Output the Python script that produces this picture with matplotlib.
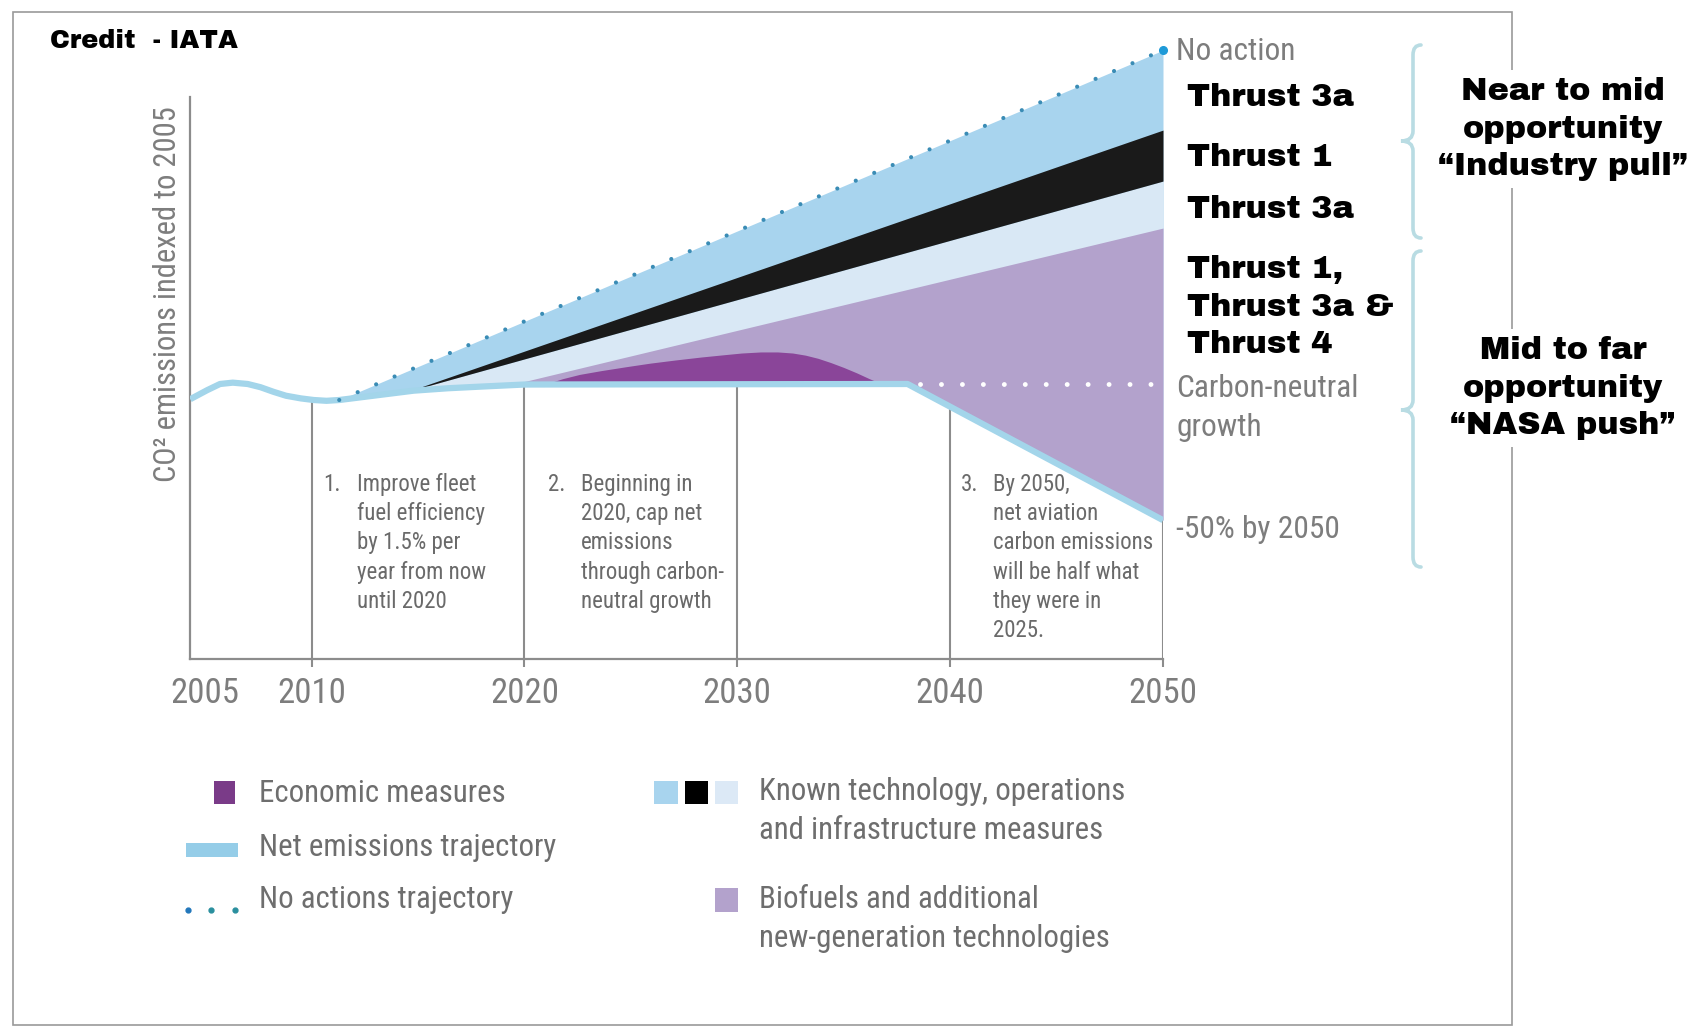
import numpy as np
import matplotlib
matplotlib.use("Agg")
import matplotlib.pyplot as plt
from matplotlib.patches import Rectangle, PathPatch
from matplotlib.path import Path
from matplotlib.lines import Line2D

# ---------------- data ----------------
tick_years = [2005, 2010, 2020, 2030, 2040, 2050]
tick_labels = ["2005", "2010", "2020", "2030", "2040", "2050"]

net_years = [2004.3, 2005.1, 2005.7, 2006.3, 2007.0, 2007.6, 2008.2, 2008.8, 2009.5,
             2010.1, 2010.7, 2011.3, 2012.3, 2013.2, 2014.8, 2016.4, 2017.9, 2020.0,
             2038.0, 2050.0]
net_vals = [97.3, 100.7, 103.0, 103.5, 103.0, 101.8, 100.1, 98.6, 97.6,
            97.0, 96.7, 97.0, 98.0, 98.9, 100.5, 101.4, 102.0, 102.8,
            103.0, 52.0]

no_action_years = [2011.3, 2050.0]
no_action_vals = [97.0, 228.0]

black_years = [2014.6, 2050.0]
black_top = [100.4, 198.1]
black_bottom = [100.4, 179.0]

bio_years = [2019.2, 2050.0]
bio_top = [102.4, 161.4]

econ_years = [2021.0, 2021.8, 2022.6, 2023.6, 2024.8, 2025.9, 2027.1, 2028.3, 2029.3,
              2030.2, 2031.1, 2031.9, 2032.6, 2033.2, 2033.8, 2034.4, 2035.0, 2035.6,
              2036.2, 2036.8]
econ_vals = [103.0, 105.0, 106.6, 108.0, 109.5, 110.8, 112.0, 113.1, 113.9,
             114.6, 115.0, 115.0, 114.6, 113.8, 112.6, 111.0, 109.2, 107.2,
             105.0, 103.0]

neutral_years = [2038.6, 2050.0]
neutral_vals = [103.0, 103.0]

milestone_years = [2010, 2020, 2030, 2040, 2050]

# ---------------- styling ----------------
W, H = 1693, 1029
NARROW = ['Roboto Condensed', 'Archivo Narrow', 'DejaVu Sans']
HEAVY = ['Archivo Black', 'DejaVu Sans']
GRAY = '#7d7d7d'
AXGRAY = '#8c8c8c'
C_LIGHT = '#a8d4ee'
C_PALE = '#d9e8f5'
C_BLACK = '#1a1a1a'
C_BIO = '#b3a2cc'
C_ECON = '#8a4599'
C_NET = '#a3d5ea'

def fx(px):
    return px / W

def fy(py):
    return 1 - py / H

fig = plt.figure(figsize=(W / 100, H / 100), dpi=100)
fig.patch.set_facecolor('white')
ax = fig.add_axes([fx(190), fy(659), (1163 - 190) / W, (659 - 44.9) / H])
ax.set_xlim(2004.29, 2050)
ax.set_ylim(0, 230)

net = lambda x: np.interp(x, net_years, net_vals)

xs = np.linspace(no_action_years[0], no_action_years[-1], 500)
ax.fill_between(xs, net(xs), np.interp(xs, no_action_years, no_action_vals),
                color=C_LIGHT, lw=0, zorder=1)
xs = np.linspace(black_years[0], black_years[-1], 500)
ax.fill_between(xs, net(xs), np.interp(xs, black_years, black_bottom),
                color=C_PALE, lw=0, zorder=2)
ax.fill_between(black_years, black_bottom, black_top, color=C_BLACK, lw=0, zorder=3)
xs = np.linspace(bio_years[0], bio_years[-1], 500)
ax.fill_between(xs, net(xs), np.interp(xs, bio_years, bio_top),
                color=C_BIO, lw=0, zorder=4)
ex = np.array(econ_years)
ax.fill_between(ex, net(ex), econ_vals, color=C_ECON, lw=0, zorder=5)

ax.vlines(milestone_years, 0, net(np.array(milestone_years, dtype=float)),
          color=AXGRAY, lw=1.5, zorder=2)

ax.plot(net_years, net_vals, color=C_NET, lw=4.5, solid_joinstyle='round',
        solid_capstyle='butt', zorder=6)

ax.plot(neutral_years, neutral_vals, color='white', lw=3.5, ls=(0, (0.01, 4.3)),
        dash_capstyle='round', zorder=7)

ax.plot(no_action_years, no_action_vals, color='#3a8cb5', lw=3.0, ls=(0, (0.01, 4.8)),
        dash_capstyle='round', zorder=8)
ax.plot([no_action_years[-1]], [no_action_vals[-1]], 'o', ms=5.5, color='#1e9ad8',
        clip_on=False, zorder=9)

for s in ['top', 'right']:
    ax.spines[s].set_visible(False)
ax.spines['left'].set_bounds(0, 210.5)
for s in ['left', 'bottom']:
    ax.spines[s].set_color(AXGRAY)
    ax.spines[s].set_linewidth(1.6)
ax.set_yticks([])
ax.set_xticks(tick_years, tick_labels)
ax.tick_params(axis='x', length=6, width=1.5, color=AXGRAY, labelcolor=GRAY,
               labelsize=25, pad=7)
for lbl in ax.get_xticklabels():
    lbl.set_family(NARROW)
ax.xaxis.get_major_ticks()[0].tick1line.set_visible(False)
ax.set_facecolor('none')

fig.text(fx(168), fy(294), "CO² emissions indexed to 2005", rotation=90,
         ha='center', va='center', fontsize=22, color=GRAY, family=NARROW)

ann_kw = dict(fontsize=16.5, color='#6a6a6a', family=NARROW, va='top', ha='left',
              linespacing=1.35)
ax.text(2010.54, 69.8, "1.", **ann_kw)
ax.text(2012.14, 69.8, "Improve fleet\nfuel efficiency\nby 1.5% per\nyear from now\nuntil 2020", **ann_kw)
ax.text(2021.1, 69.8, "2.", **ann_kw)
ax.text(2022.66, 69.8, "Beginning in\n2020, cap net\nemissions\nthrough carbon-\nneutral growth", **ann_kw)
ax.text(2040.5, 69.8, "3.", **ann_kw)
ax.text(2042.0, 69.8, "By 2050,\nnet aviation\ncarbon emissions\nwill be half what\nthey were in\n2025.", **ann_kw)

lab_kw = dict(fontsize=22.6, color=GRAY, family=NARROW, ha='left', va='center')
fig.text(fx(1176), fy(52), "No action", **lab_kw)
fig.text(fx(1176), fy(408), "Carbon-neutral\ngrowth", linespacing=1.4, **lab_kw)
fig.text(fx(1176), fy(530), "-50% by 2050", **lab_kw)

th_kw = dict(fontsize=23, color='black', family=HEAVY, weight='bold',
             ha='left', va='center')
fig.text(fx(1187), fy(98), "Thrust 3a", **th_kw)
fig.text(fx(1187), fy(157), "Thrust 1", **th_kw)
fig.text(fx(1187), fy(209), "Thrust 3a", **th_kw)
fig.text(fx(1187), fy(307), "Thrust 1,\nThrust 3a &\nThrust 4", linespacing=1.36, **th_kw)

fig.text(fx(50), fy(41), "Credit  - IATA", fontsize=18.5, color='black',
         family=HEAVY, weight='bold', ha='left', va='center')

fig.add_artist(Rectangle((fx(13), fy(1025)), (1512 - 13) / W, (1025 - 12) / H,
                         transform=fig.transFigure, fill=False, ec='#9a9a9a', lw=1.2,
                         zorder=0))

op_kw = dict(fontsize=23, color='black', family=HEAVY, weight='bold',
             ha='center', va='center', multialignment='center', linespacing=1.36,
             bbox=dict(facecolor='white', edgecolor='none', pad=5), zorder=5)
fig.text(fx(1563), fy(129), "Near to mid\nopportunity\n\u201cIndustry pull\u201d", **op_kw)
fig.text(fx(1563), fy(388), "Mid to far\nopportunity\n\u201cNASA push\u201d", **op_kw)

def brace(y0, y1, ym, xl=1413, xt=1401, xe=1421, r=10):
    pts = [(xe, y0), (xl, y0), (xl, y0 + r), (xl, ym - r),
           (xl, ym), (xt, ym), (xt, ym),
           (xl, ym), (xl, ym + r), (xl, y1 - r),
           (xl, y1), (xe, y1), (xe, y1)]
    codes = [Path.MOVETO, Path.CURVE3, Path.CURVE3, Path.LINETO,
             Path.CURVE3, Path.CURVE3, Path.LINETO,
             Path.CURVE3, Path.CURVE3, Path.LINETO,
             Path.CURVE3, Path.CURVE3, Path.LINETO]
    verts = [(fx(a), fy(b)) for a, b in pts]
    fig.add_artist(PathPatch(Path(verts, codes), transform=fig.transFigure,
                             fill=False, ec='#b9dce3', lw=2.6, capstyle='round'))

brace(45, 238, 141)
brace(251, 567, 410)

def rect(x0, y0, x1, y1, c):
    fig.add_artist(Rectangle((fx(x0), fy(y1)), (x1 - x0) / W, (y1 - y0) / H,
                             transform=fig.transFigure, color=c, lw=0))

leg_kw = dict(fontsize=22.2, color='#6e6e6e', family=NARROW, ha='left', va='center',
              linespacing=1.4)
rect(214, 781, 235, 804, '#7a3b88')
fig.text(fx(259), fy(794), "Economic measures", **leg_kw)
rect(186, 843, 238, 857, '#95cde8')
fig.text(fx(259), fy(848), "Net emissions trajectory", **leg_kw)
for px, c in [(188, '#2277bb'), (211, '#2a8f9e'), (235, '#2a8f9e')]:
    fig.add_artist(Line2D([fx(px)], [fy(910)], marker='o', ms=3.5, color=c,
                          transform=fig.transFigure))
fig.text(fx(259), fy(899), "No actions trajectory", **leg_kw)

rect(654, 781, 678, 804, C_LIGHT)
rect(685, 781, 708, 804, '#000000')
rect(715, 781, 738, 804, '#dce9f6')
fig.text(fx(759), fy(811), "Known technology, operations\nand infrastructure measures", **leg_kw)
rect(715, 888, 738, 912, C_BIO)
fig.text(fx(759), fy(919), "Biofuels and additional\nnew-generation technologies", **leg_kw)

fig.savefig("out.png", dpi=100, facecolor='white')
